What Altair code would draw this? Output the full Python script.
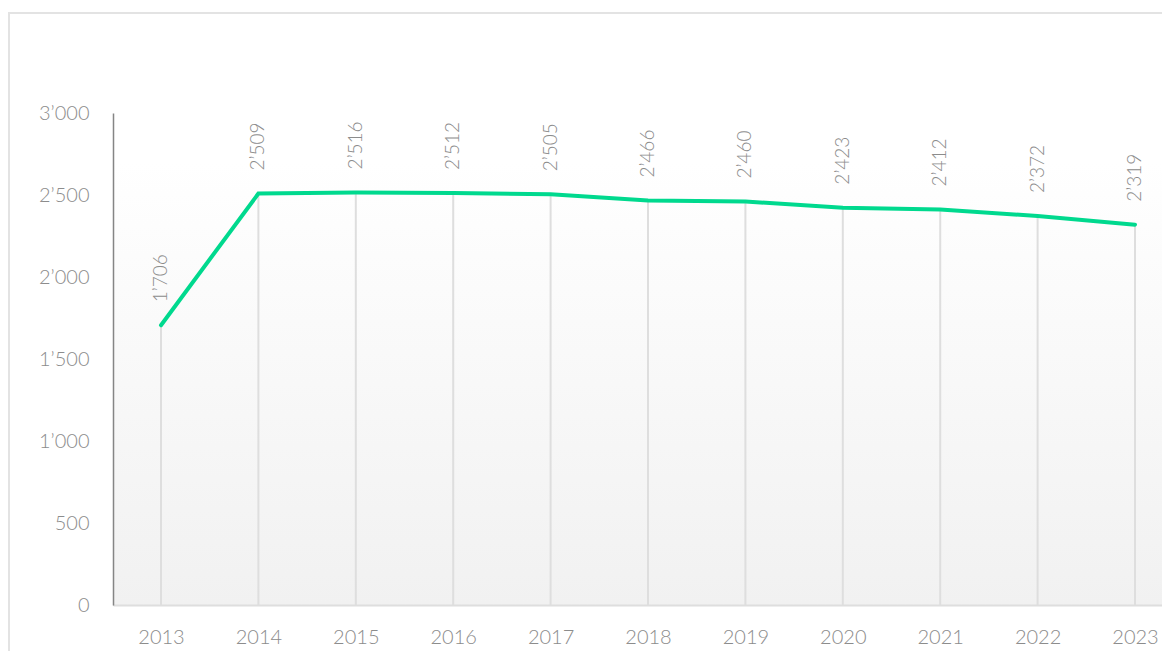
import altair as alt
import pandas as pd

years = [2013, 2014, 2015, 2016, 2017, 2018, 2019, 2020, 2021, 2022, 2023]
values = [1706, 2509, 2516, 2512, 2505, 2466, 2460, 2423, 2412, 2372, 2319]
y_ticks = [0, 500, 1000, 1500, 2000, 2500, 3000]

df = pd.DataFrame({"year": years, "value": values})
df["label"] = [f"{v:,}".replace(",", "\u2019") for v in values]
df["zero"] = 0

W, H = 1049, 492
FONT = "Lato"
GRAY = "#8c8c8c"

xscale = alt.Scale(domain=[2012.5072, 2023.277], nice=False, zero=False)
yscale = alt.Scale(domain=[0, 3000], nice=False)

base = alt.Chart(df)

frame = base.mark_rect(fill=None, stroke="#e3e3e3", strokeWidth=2).encode(
    x=alt.value(-104), x2=alt.value(W + 300), y=alt.value(-100), y2=alt.value(H + 300)
).transform_filter("datum.year == 2013")

bg = base.mark_rect(
    fill=alt.Gradient(
        gradient="linear",
        stops=[alt.GradientStop(color="#ffffff", offset=0.1),
               alt.GradientStop(color="#f1f1f1", offset=1)],
        x1=0, x2=0, y1=0, y2=1,
    )
).encode(x=alt.value(0), x2=alt.value(W), y=alt.value(0), y2=alt.value(H)).transform_filter("datum.year == 2013")

drops = base.mark_rule(color="#dedede", strokeWidth=2).encode(
    x=alt.X("year:Q", scale=xscale,
            axis=alt.Axis(values=years, labelExpr="datum.value + ''", title=None,
                          ticks=False, grid=False, domainColor="#dedede", domainWidth=2,
                          labelPadding=22, labelFontSize=20, labelColor=GRAY,
                          labelFont=FONT, labelFontWeight=300, zindex=1)),
    y=alt.Y("value:Q", scale=yscale,
            axis=alt.Axis(values=y_ticks,
                          labelExpr="replace(format(datum.value, ','), ',', '\u2019')",
                          title=None, ticks=False, grid=False, domainColor="#858585",
                          domainWidth=1.5, labelPadding=24, labelFontSize=20,
                          labelColor=GRAY, labelFont=FONT, labelFontWeight=300, zindex=1)),
    y2="zero:Q",
)

line = base.mark_line(color="#00d98e", strokeWidth=4, strokeCap="round").encode(
    x=alt.X("year:Q", scale=xscale), y=alt.Y("value:Q", scale=yscale)
)

labels = base.mark_text(
    angle=270, align="left", baseline="middle", yOffset=-23,
    fontSize=19, font=FONT, fontWeight=300, color=GRAY,
).encode(x=alt.X("year:Q", scale=xscale), y=alt.Y("value:Q", scale=yscale), text="label:N")

chart = alt.layer(frame, bg, drops, line, labels).properties(
    width=W, height=H,
    autosize=alt.AutoSizeParams(type="none"),
    padding={"left": 105, "top": 105, "right": 0, "bottom": 46},
).configure_view(stroke=None).configure(background="white")

chart.save("out.html", embed_options={"renderer": "svg", "actions": False})
